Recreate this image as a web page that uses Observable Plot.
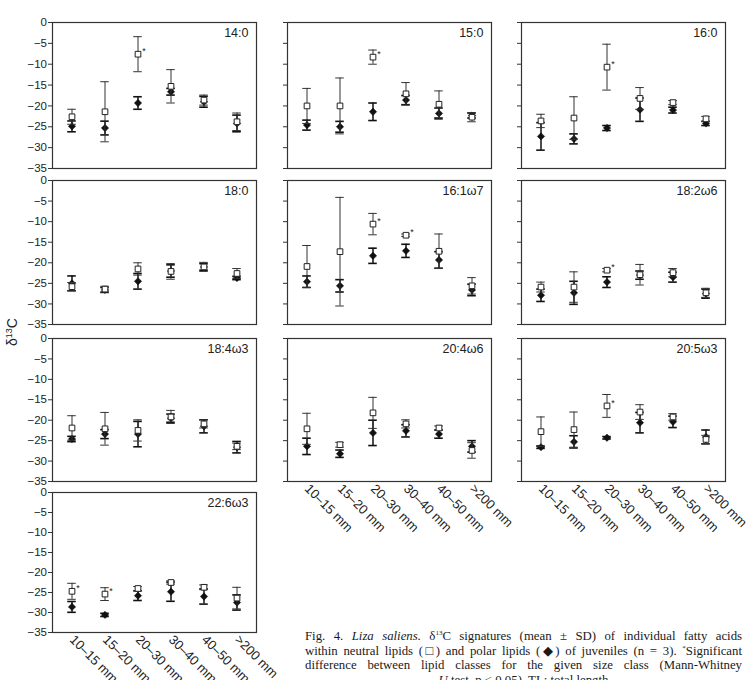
<!DOCTYPE html>
<html><head><meta charset="utf-8">
<script src="https://cdn.jsdelivr.net/npm/d3@7"></script>
<script src="https://cdn.jsdelivr.net/npm/@observablehq/plot@0.6"></script>
<style>
body{margin:0;background:#fff;}
#fig{position:relative;width:748px;height:680px;overflow:hidden;font-family:"Liberation Sans",Arial,sans-serif;color:#222;}
.panel{position:absolute;}
#ylab{position:absolute;left:12px;top:332px;font-size:14px;white-space:nowrap;transform:translate(-50%,-50%) rotate(-90deg);}
#ylab sup{font-size:9px;}
#caption{position:absolute;left:305px;top:629px;width:437px;font-family:"Liberation Serif","Times New Roman",serif;font-size:12.8px;line-height:14.5px;color:#1a1a1a;}
#caption div{height:14.5px;}
#caption .j{text-align:justify;text-align-last:justify;white-space:nowrap;}
#caption .c{text-align:center;white-space:nowrap;}
#caption sup{font-size:7px;line-height:0;vertical-align:5px;}
</style></head>
<body>
<div id="fig">
  <div id="ylab">δ<sup>13</sup>C</div>
  <div id="caption">
    <div class="j">Fig. 4. <i>Liza saliens.</i> δ<sup>13</sup>C signatures (mean ± SD) of individual fatty acids</div>
    <div class="j">within neutral lipids (□) and polar lipids (◆) of juveniles (n = 3). <sup>*</sup>Significant</div>
    <div class="j">difference between lipid classes for the given size class (Mann-Whitney</div>
    <div class="c"><i>U</i> test, p &lt; 0.05). TL: total length</div>
  </div>
</div>
<script>
const sizeClasses = ["10–15 mm", "15–20 mm", "20–30 mm", "30–40 mm", "40–50 mm", ">200 mm"];
const fattyAcids = ["14:0", "15:0", "16:0", "18:0", "16:1ω7", "18:2ω6", "18:4ω3", "20:4ω6", "20:5ω3", "22:6ω3"];
const yTicks = [0, -5, -10, -15, -20, -25, -30, -35];

const neutralMean = [
  [-22.6, -21.4, -7.6, -15.3, -18.6, -23.8],
  [-20.0, -20.0, -8.3, -17.1, -19.6, -22.7],
  [-23.6, -22.9, -10.7, -18.2, -19.2, -23.1],
  [-25.8, -26.4, -21.5, -22.1, -21.0, -22.6],
  [-20.9, -17.3, -10.6, -13.3, -17.2, -25.6],
  [-25.9, -25.9, -21.8, -22.9, -22.4, -27.3],
  [-21.9, -22.1, -22.5, -19.2, -20.9, -26.4],
  [-22.1, -26.0, -18.2, -20.9, -21.9, -27.4],
  [-22.8, -22.3, -16.5, -18.0, -19.2, -24.7],
  [-24.7, -25.4, -24.0, -22.5, -23.7, -26.4]
];
const neutralSD = [
  [1.8, 7.2, 4.2, 4.0, 1.2, 2.1],
  [4.2, 6.7, 1.7, 2.7, 3.2, 1.1],
  [1.6, 5.1, 5.5, 2.6, 0.5, 0.6],
  [1.0, 0.7, 1.5, 1.9, 1.1, 1.2],
  [5.1, 13.2, 2.6, 0.3, 4.2, 2.0],
  [1.2, 3.7, 0.4, 2.5, 1.0, 1.1],
  [3.0, 4.0, 2.6, 1.6, 1.0, 0.8],
  [3.8, 0.6, 3.8, 1.0, 0.5, 1.9],
  [3.6, 4.3, 2.8, 1.8, 0.8, 1.0],
  [2.0, 1.6, 0.5, 0.4, 0.6, 2.7]
];
const polarMean = [
  [-24.9, -25.3, -19.3, -16.6, -19.0, -24.2],
  [-24.6, -25.0, -21.4, -18.6, -21.8, -22.3],
  [-27.3, -27.9, -25.3, -20.9, -21.0, -24.2],
  [-25.0, -26.6, -24.5, -22.0, -21.0, -23.7],
  [-24.6, -25.6, -18.3, -17.1, -19.3, -26.6],
  [-27.9, -27.3, -24.7, -23.0, -23.5, -27.5],
  [-24.6, -23.4, -23.4, -19.5, -21.5, -26.6],
  [-26.4, -28.2, -23.1, -22.6, -23.4, -26.4],
  [-26.6, -25.3, -24.3, -20.6, -20.4, -24.1],
  [-28.6, -30.6, -25.8, -24.8, -26.0, -27.5]
];
const polarSD = [
  [1.3, 1.65, 1.5, 0.8, 1.3, 2.0],
  [1.2, 1.3, 2.1, 1.1, 1.3, 0.6],
  [3.3, 1.2, 0.6, 2.8, 0.7, 0.5],
  [1.8, 0.6, 1.9, 1.5, 0.8, 0.4],
  [1.4, 1.5, 1.85, 1.6, 2.0, 1.4],
  [1.5, 2.8, 1.3, 1.0, 1.2, 1.1],
  [0.65, 1.1, 3.1, 1.0, 1.6, 1.4],
  [2.0, 0.9, 3.1, 1.5, 1.0, 1.4],
  [0.3, 1.5, 0.3, 2.5, 1.4, 1.7],
  [1.35, 0.4, 1.2, 2.4, 1.9, 1.9]
];
const significant = [
  [0, 0, 1, 0, 0, 0],
  [0, 0, 1, 0, 0, 0],
  [0, 0, 1, 0, 0, 0],
  [0, 0, 0, 0, 0, 0],
  [0, 0, 1, 1, 0, 0],
  [0, 0, 1, 0, 0, 0],
  [0, 0, 0, 0, 0, 0],
  [0, 0, 0, 0, 0, 0],
  [0, 0, 1, 0, 0, 0],
  [1, 1, 0, 0, 0, 0]
];

// layout of the grid (3 columns x 4 rows)
const colLeft = [52, 287, 521];
const colW = 204;
const rowTop = [22, 180, 338, 492];
const rowH = [146, 144, 143, 140];
const bottomPanels = [7, 8, 9];

const fig = document.getElementById("fig");
const font = '"Liberation Sans", Arial, sans-serif';

fattyAcids.forEach((acid, i) => {
  const col = i % 3, row = Math.floor(i / 3);
  const rows = sizeClasses.map((s, j) => ({
    size: s,
    nm: neutralMean[i][j], nsd: neutralSD[i][j],
    pm: polarMean[i][j], psd: polarSD[i][j],
    sig: significant[i][j] === 1
  }));
  const isBottom = bottomPanels.includes(i);
  const mL = 50, mT = 2, mR = 4, mB = isBottom ? 72 : 2;
  const w = colW, h = rowH[row];
  const capInset = (w / 6.1 - 9) / 2;
  const chart = Plot.plot({
    width: w + mL + mR,
    height: h + mT + mB,
    marginLeft: mL, marginTop: mT, marginRight: mR, marginBottom: mB,
    style: {background: "transparent", overflow: "visible", fontFamily: font, color: "#222"},
    x: {type: "band", domain: sizeClasses, paddingInner: 0, paddingOuter: 0.05, ...(isBottom ? {} : {axis: null})},
    y: {domain: [-35, 0]},
    marks: [
      Plot.axisY(yTicks, {
        tickSize: 4, tickPadding: 1.5, stroke: "#333", fontSize: 11.5, label: null,
        tickFormat: col === 0 ? (d => d === 0 ? "0" : "\u2212" + Math.abs(d)) : (() => "")
      }),
      isBottom ? Plot.axisX({tickSize: 0, tickPadding: 5, tickRotate: 45, fontSize: 13, label: null}) : null,
      // polar lipids (filled diamonds)
      Plot.ruleX(rows, {x: "size", y1: d => d.pm - d.psd, y2: d => d.pm + d.psd, stroke: "#111", strokeWidth: 1.5}),
      Plot.tickY(rows, {x: "size", y: d => d.pm - d.psd, stroke: "#111", strokeWidth: 1.6, insetLeft: capInset, insetRight: capInset}),
      Plot.tickY(rows, {x: "size", y: d => d.pm + d.psd, stroke: "#111", strokeWidth: 1.6, insetLeft: capInset, insetRight: capInset}),
      Plot.dot(rows, {x: "size", y: "pm", symbol: "diamond2", r: 3.3, fill: "#111", stroke: "#111", strokeWidth: 0.5}),
      // neutral lipids (open squares)
      Plot.ruleX(rows, {x: "size", y1: d => d.nm - d.nsd, y2: d => d.nm + d.nsd, stroke: "#333", strokeWidth: 1}),
      Plot.tickY(rows, {x: "size", y: d => d.nm - d.nsd, stroke: "#333", strokeWidth: 1, insetLeft: capInset, insetRight: capInset}),
      Plot.tickY(rows, {x: "size", y: d => d.nm + d.nsd, stroke: "#333", strokeWidth: 1, insetLeft: capInset, insetRight: capInset}),
      Plot.dot(rows, {x: "size", y: "nm", symbol: "square", r: 3.2, fill: "white", stroke: "#222", strokeWidth: 1}),
      Plot.text(rows.filter(d => d.sig), {x: "size", y: "nm", text: () => "*", dx: 6, dy: -3, fontSize: 9, fill: "#222"}),
      Plot.frame({stroke: "#333", strokeWidth: 1.2}),
      Plot.text([acid], {text: d => d, frameAnchor: "top-right", textAnchor: "end", lineAnchor: "top", dx: -8, dy: 6, fontSize: 12.5, fill: "#222"})
    ]
  });
  chart.classList.add("panel");
  chart.style.left = (colLeft[col] - mL) + "px";
  chart.style.top = (rowTop[row] - mT) + "px";
  fig.appendChild(chart);
});
</script>
</body></html>
